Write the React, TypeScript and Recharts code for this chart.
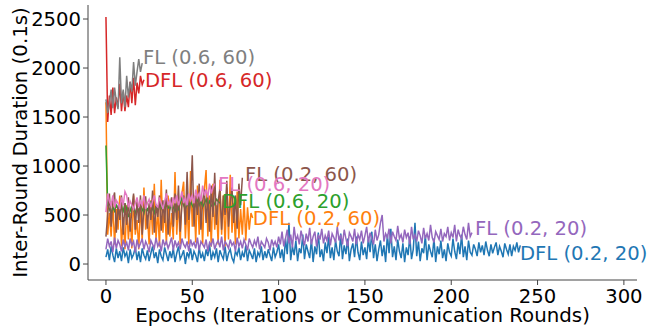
import React from 'react';
import { ComposedChart, Line, Scatter, XAxis, YAxis } from 'recharts';

// ---- data (Inter-round duration in 0.1s, one value per epoch) ----
const dfl_02_20 = [
  70, 150, 40, 180, 90, 20, 160, 60, 130, 30, 170, 80, 120, 10, 150, 60, 100, 170, 40, 130, 20, 160, 90, 50, 140, 30, 110, 180, 60, 120, 10, 150, 80, 40, 170, 100, 30, 130, 60, 160, 20, 110, 180, 50, 90, 140, 0, 120, 70, 160,
  40, 130, 90, 20, 170, 60, 110, 30, 150, 80, 200, 40, 120, 70, 160, 20, 140, 90, 50, 180, 30, 110, 150, 60, 20, 130, 90, 170, 40, 120, 70, 190, 30, 140, 100, 50, 160, 20, 120, 80, 180, 40, 130, 60, 150, 90, 30, 170, 70, 120,
  200, 60, 150, 20, 260, 100, 420, 40, 180, 90, 240, 30, 160, 110, 300, 50, 200, 130, 60, 250, 20, 180, 100, 320, 70, 150, 30, 220, 110, 280, 60, 170, 40, 240, 130, 80, 310, 50, 190, 100, 260, 30, 150, 210, 70, 280, 120, 40, 230, 90,
  170, 50, 260, 120, 330, 60, 200, 30, 150, 240, 80, 190, 20, 300, 110, 360, 70, 180, 40, 250, 130, 60, 210, 20, 170, 90, 280, 50, 150, 420, 80, 230, 30, 160, 110, 290, 40, 200, 130, 70, 260, 20, 180, 100, 240, 60, 150, 30, 210, 120,
  80, 260, 130, 50, 220, 100, 300, 70, 180, 40, 240, 120, 90, 200, 150, 80, 220, 120, 190, 90, 230, 140, 80, 200, 110, 170, 220, 90, 180, 130, 70, 210, 150, 100, 200, 80, 180, 140, 220, 120, 190,
];

const dfl_02_60 = [
  1650, 300, 520, 280, 620, 200, 560, 350, 700, 180, 480, 150, 600, 250, 520, 160, 700, 300, 450, 150,
  620, 230, 780, 350, 500, 200, 650, 300, 820, 250, 560, 180, 860, 320, 600, 200, 700, 280, 520, 250,
  940, 300, 650, 200, 720, 840, 260, 600, 200, 950, 380, 700, 220, 800, 300, 650, 200, 760, 960, 280,
  700, 180, 820, 350, 600, 200, 860, 300, 700, 180, 780, 250, 910, 320, 620, 200, 740, 260, 560, 300,
  650, 240, 580, 350, 520, 470,
];

const dfl_06_20 = [
  1210, 600, 560, 520, 580, 540, 600, 560, 500, 580, 540, 620, 560, 480, 540, 600, 560, 520, 580, 540,
  600, 560, 520, 600, 550, 580, 640, 560, 520, 600, 560, 620, 580, 540, 600, 680, 580, 560, 620, 580,
  540, 600, 560, 620, 680, 600, 560, 620, 580, 640, 600, 560, 620, 660, 600, 640, 580, 620, 660, 600,
  640, 600, 580, 620, 660, 640, 620,
];

const dfl_06_60 = [
  2520, 1450, 1720, 1520, 1800, 1540, 1700, 1600, 1840, 1560, 1760, 1560, 1720, 1600, 1860, 1640, 1900, 1620, 1850, 1740,
  1920, 1830, 1880,
];

const fl_02_20 = [
  150, 260, 180, 230, 120, 270, 160, 240, 200, 130, 250, 180, 220, 140, 260, 190, 230, 120, 250, 170, 210, 260, 150, 230, 190, 120, 240, 200, 160, 270, 180, 220, 130, 250, 190, 230, 160, 210, 270, 140, 240, 180, 220, 150, 260, 200, 170, 230, 130, 250,
  190, 220, 160, 270, 140, 230, 200, 170, 250, 130, 220, 190, 260, 150, 210, 240, 170, 280, 140, 230, 200, 160, 250, 190, 220, 130, 270, 180, 230, 160, 250, 200, 140, 260, 210, 170, 240, 190, 280, 150, 230, 200, 170, 260, 220, 140, 250, 190, 230, 170,
  280, 200, 330, 180, 260, 350, 210, 300, 170, 380, 240, 290, 200, 340, 260, 190, 310, 230, 370, 200, 280, 330, 180, 300, 250, 360, 210, 290, 240, 340, 190, 310, 270, 220, 380, 240, 300, 200, 350, 260, 180, 320, 280, 230, 360, 200, 300, 250, 340, 210,
  290, 380, 220, 320, 260, 200, 350, 240, 300, 420, 500, 230, 310, 270, 360, 210, 330, 280, 240, 390, 260, 300, 220, 350, 270, 320, 200, 380, 250, 300, 230, 340, 290, 210, 370, 260, 310, 240, 400, 270, 220, 330, 290, 250, 360, 230, 310, 280, 380, 240,
  320, 270, 400, 230, 350, 290, 260, 380, 300, 250, 420, 280, 320,
];

const fl_02_60 = [
  280, 500, 720, 380, 650, 730, 320, 600, 450, 700, 300, 620, 400, 680, 330, 560, 720, 350, 640, 420,
  700, 300, 580, 690, 360, 620, 450, 750, 320, 600, 480, 700, 340, 650, 420, 760, 300, 580, 680, 380,
  720, 450, 800, 330, 600, 700, 400, 940, 450, 650, 1110, 380, 700, 500, 820, 350, 640, 760, 420, 700,
  330, 800, 480, 930, 400, 650, 760, 350, 700, 500, 850, 380, 620, 780, 420, 700, 360, 820, 600, 880,
];

const fl_06_20 = [
  530, 720, 640, 600, 700, 580, 650, 620, 560, 680, 600, 740, 700, 580, 640, 600, 560, 620, 680, 580,
  640, 600, 700, 560, 620, 660, 580, 640, 700, 600, 580, 680, 620, 560, 640, 720, 600, 650, 580, 680,
  620, 700, 600, 660, 740, 620, 680, 600, 720, 650, 700, 620, 760, 680, 720, 640, 800, 700, 760, 680,
  820, 720, 780, 820,
];

const fl_06_60 = [
  1680, 1540, 1640, 1780, 1590, 1800, 1660, 1580, 2110, 1640, 1780, 1600, 1920, 1700, 1860, 1760, 2060, 1820, 1960, 2090,
  1960, 2050,
];

// plotting order follows matplotlib's default colour cycle
const seriesNames = ['DFL (0.2, 20)', 'DFL (0.2, 60)', 'DFL (0.6, 20)', 'DFL (0.6, 60)', 'FL (0.2, 20)', 'FL (0.2, 60)', 'FL (0.6, 20)', 'FL (0.6, 60)'];
const seriesValues = [dfl_02_20, dfl_02_60, dfl_06_20, dfl_06_60, fl_02_20, fl_02_60, fl_06_20, fl_06_60];
const seriesColors = ['#1f77b4', '#ff7f0e', '#2ca02c', '#d62728', '#9467bd', '#8c564b', '#e377c2', '#7f7f7f'];

// text labels placed next to the end of each curve (data units)
const labelEpochs = [239.8, 85.1, 67.2, 22.6, 213.7, 80.5, 64.9, 21.4];
const labelValues = [112, 469, 643, 1878, 367, 918, 816, 2112];

const xTicks = [0, 50, 100, 150, 200, 250, 300];
const yTicks = [0, 500, 1000, 1500, 2000, 2500];

const FONT = 'DejaVu Sans';
const AXIS = '#444';

const toPoints = (vals: number[]) => vals.map((v, i) => ({ epoch: i, value: v }));

export default function App() {
  return (
    <div style={{ position: 'absolute', left: 0, top: 0, width: 647, height: 328, background: '#fff' }}>
      <ComposedChart
        width={647}
        height={328}
        margin={{ top: 5, right: 10, left: 0, bottom: 0 }}
        style={{ fontFamily: FONT, overflow: 'visible' }}
      >
        <XAxis
          xAxisId="b"
          dataKey="epoch"
          type="number"
          domain={[-10.4, 307.6]}
          ticks={xTicks}
          height={48}
          tickSize={5}
          tickMargin={4}
          stroke={AXIS}
          tick={{ fill: '#000', fontSize: 19.6, fontFamily: FONT }}
          label={{ value: 'Epochs (Iterations or Communication Rounds)', position: 'insideBottom', offset: 6, style: { fill: '#000', fontSize: 19.8, fontFamily: FONT } }}
        />
        <XAxis xAxisId="t" orientation="top" type="number" domain={[0, 1]} height={0} tick={false} tickLine={false} stroke={AXIS} />
        <YAxis
          yAxisId="l"
          dataKey="value"
          type="number"
          domain={[-163, 2643]}
          ticks={yTicks}
          width={88}
          tickSize={5}
          tickMargin={2}
          stroke={AXIS}
          tick={{ fill: '#000', fontSize: 19.6, fontFamily: FONT }}
          label={{ value: 'Inter-Round Duration (0.1s)', angle: -90, position: 'insideLeft', offset: 20, style: { textAnchor: 'middle', fill: '#000', fontSize: 19.8, fontFamily: FONT } }}
        />
        <YAxis yAxisId="r" orientation="right" type="number" domain={[0, 1]} width={0} tick={false} tickLine={false} stroke={AXIS} />
        {seriesValues.map((vals, i) => (
          <Line
            key={seriesNames[i]}
            xAxisId="b"
            yAxisId="l"
            data={toPoints(vals)}
            dataKey="value"
            name={seriesNames[i]}
            type="linear"
            stroke={seriesColors[i]}
            strokeWidth={1.5}
            dot={false}
            activeDot={false}
            isAnimationActive={false}
          />
        ))}
        {seriesNames.map((name, i) => (
          <Scatter
            key={'lbl' + name}
            xAxisId="b"
            yAxisId="l"
            data={[{ epoch: labelEpochs[i], value: labelValues[i] }]}
            dataKey="value"
            isAnimationActive={false}
            shape={(p: any) => (
              <text x={p.cx} y={p.cy} dy="0.36em" textAnchor="start" fill={seriesColors[i]} fontSize={19.6} fontFamily={FONT}>
                {name}
              </text>
            )}
          />
        ))}
      </ComposedChart>
    </div>
  );
}
